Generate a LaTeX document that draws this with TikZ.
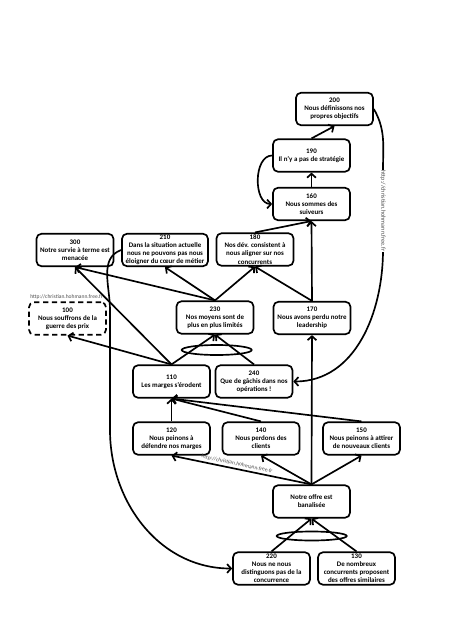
\documentclass[tikz,border=0pt]{standalone}
\usepackage{fontspec}
\setmainfont{Carlito}
\usepackage{tikz}
\usetikzlibrary{arrows.meta}

\begin{document}
\begin{tikzpicture}[x=0.4mm,y=-0.4mm,
    >={Straight Barb[length=4.5pt,width=10pt]},
    box/.style={draw,rounded corners=2mm,line width=1.9pt,align=center,
      minimum width=3.08cm,minimum height=1.3cm,inner sep=0.5pt,
      font=\fontsize{7.9}{9.2}\selectfont\bfseries},
    link/.style={->,line width=1.9pt},
    url/.style={inner sep=0.5pt,text=black!70,font=\fontsize{6.3}{7}\selectfont}]

  \useasboundingbox (0,0) rectangle (467,622);

  \node (c200) at (334.5,109) [box] {200\\Nous définissons nos\\propres objectifs};
  \node (c190) at (311.5,155.5) [box] {190\\Il n'y a pas de stratégie};
  \node (c160) at (311.5,204) [box] {160\\Nous sommes des\\suiveurs};
  \node (c300) at (75,250) [box] {300\\Notre survie à terme est\\menacée};
  \node (c210) at (165,250) [box,minimum width=3.44cm] {210\\Dans la situation actuelle\\nous ne pouvons pas nous\\éloigner du cœur de métier};
  \node (c180) at (255,249.5) [box] {180\\Nos dév. consistent à\\nous aligner sur nos\\concurrents};
  \node (c100) at (67.5,318.5) [box,dash pattern=on 6pt off 4pt] {100\\Nous souffrons de la\\guerre des prix};
  \node (c230) at (215,317.5) [box] {230\\Nos moyens sont de\\plus en plus limités};
  \node (c170) at (312,318) [box] {170\\Nous avons perdu notre\\leadership};
  \node (c110) at (171.5,381.5) [box] {110\\Les marges s'érodent};
  \node (c240) at (254,381.5) [box] {240\\Que de gâchis dans nos\\opérations !};
  \node (c120) at (171.5,438.5) [box] {120\\Nous peinons à\\défendre nos marges};
  \node (c140) at (261,438.5) [box] {140\\Nous perdons des\\clients};
  \node (c150) at (361.5,438.5) [box] {150\\Nous peinons à attirer\\de nouveaux clients};
  \node (coffre) at (311.5,501.5) [box] {Notre offre est\\banalisée};
  \node (c220) at (271.5,568.5) [box] {220\\Nous ne nous\\distinguons pas de la\\concurrence};
  \node (c130) at (356.5,568.5) [box] {130\\De nombreux\\concurrents proposent\\des offres similaires};

  \draw[link] (c190.north) -- (c200.south);
  \draw[link] (c160.north) -- (c190.south);
  \draw[link] (c190.west) to[out=180,in=180] (c160.west);
  \draw[link] (c180.north) -- (c160.south);
  \draw[link] (c170.north) -- (c160.south);
  \draw[link] (c200.east) to[out=-60,in=90] (383,170) -- (383,250) to[out=-90,in=0] (c240.east);

  \draw[link] (c230.north) -- (c300.south);
  \draw[link] (c230.north) -- (c210.south);
  \draw[link] (c230.north) -- (c180.south);
  \draw[link] (c170.north) -- (c180.south);

  \draw[link] (c110.north) -- (c300.south);
  \draw[link] (c110.north) -- (c100.south);
  \draw[link] (c110.north) -- (c230.south);
  \draw[link] (c240.north) -- (c230.south);
  \draw[line width=1.9pt] (216.7,350) ellipse (35 and 5);

  \draw[link] (c120.north) -- (c110.south);
  \draw[link] (c140.north) -- (c110.south);
  \draw[link] (c150.north) -- (c110.south);

  \draw[link] (coffre.north) -- (c120.south);
  \draw[link] (coffre.north) -- (c140.south);
  \draw[link] (coffre.north) -- (c150.south);
  \draw[link] (coffre.north) -- (c170.south);

  \draw[link] (c220.north) -- (coffre.south);
  \draw[link] (c130.north) -- (coffre.south);
  \draw[line width=1.9pt] (311.7,536) ellipse (35 and 4.5);

  \draw[link] (c210.west) to[out=200,in=90] (110,310) -- (110,430) to[out=-90,in=180] (c220.west);

  \node (u100) at (66.5,297) [url] {http://christian.hohmann.free.fr};
  \node (u120) at (237,464) [url,rotate=-12] {http://christian.hohmann.free.fr};
  \node (u240) at (383,211) [url,rotate=-90,fill=white,font=\fontsize{7}{8}\selectfont] {http://christian.hohmann.free.fr};

\end{tikzpicture}
\end{document}
